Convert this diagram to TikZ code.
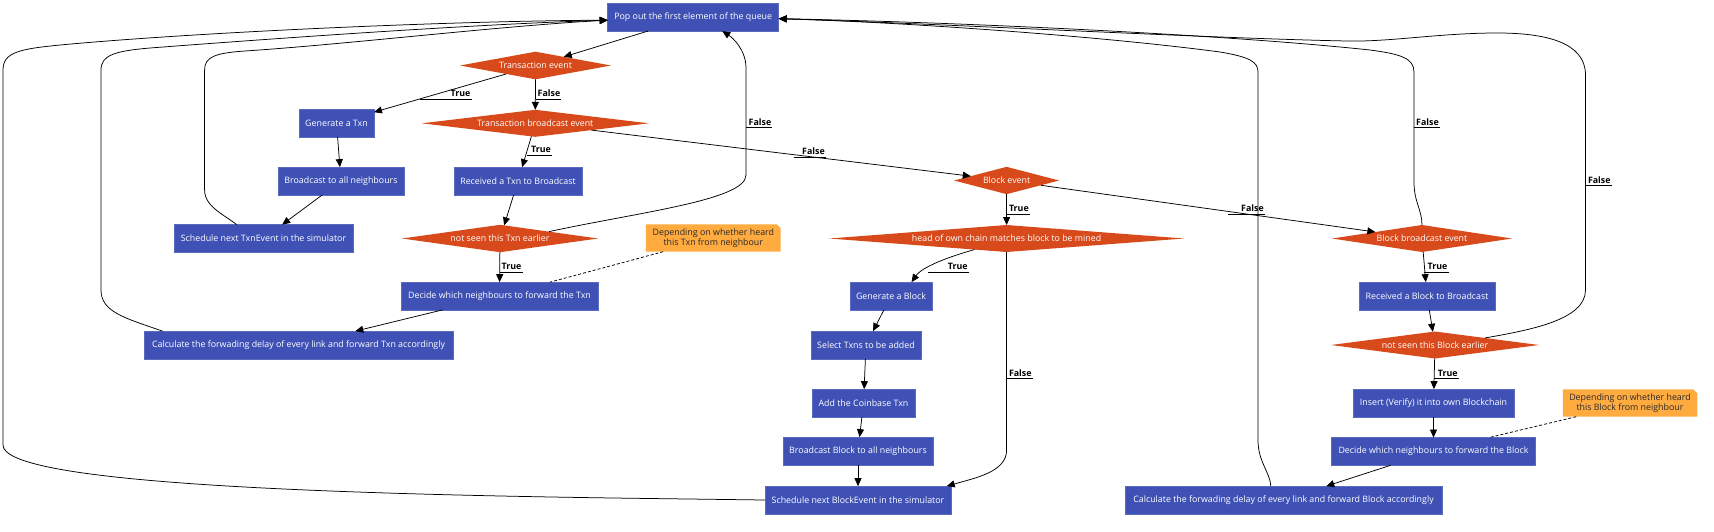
\documentclass[tikz,border=0pt]{standalone}
\usepackage{fontspec}
\setmainfont{Open Sans}
\usetikzlibrary{shapes.geometric,arrows.meta,calc}
\definecolor{boxblue}{HTML}{3F51B5}
\definecolor{boxedge}{HTML}{5C6BC0}
\definecolor{decor}{HTML}{D84A1B}
\definecolor{noteor}{HTML}{FFAB40}
\definecolor{notetext}{HTML}{2A2A2A}
\begin{document}
\begin{tikzpicture}[x=1pt,y=-1pt,
  font=\fontsize{8.85}{10}\selectfont,
  box/.style={rectangle, fill=boxblue, draw=boxedge, line width=0.6pt, text=white,
    minimum height=27.7pt, inner xsep=2pt, inner ysep=0pt, outer sep=0pt},
  dec/.style={diamond, fill=decor, text=white, inner sep=0pt, outer sep=0pt, shape aspect=1},
  note/.style={rectangle, inner sep=0pt, outer sep=0pt, minimum height=27.4pt,
    text=notetext, align=center,
    path picture={\fill[noteor] (path picture bounding box.south west)
      -- (path picture bounding box.north west)
      -- ($(path picture bounding box.north east)+(-4,0)$)
      -- ($(path picture bounding box.north east)+(0,4)$)
      -- (path picture bounding box.south east) -- cycle;}},
  conn/.style={draw=black, line width=0.75pt},
  arr/.style={-{Triangle[length=8pt,width=7pt]}},
  dashline/.style={draw=black, line width=0.75pt, dash pattern=on 3pt off 2pt},
  lbl/.style={anchor=south west, font=\fontsize{8.85}{10}\selectfont\bfseries,
    inner xsep=1pt, inner ysep=2.3pt, text depth=0pt},
  ul/.style={draw=black, line width=0.75pt}
]
\fill[white] (0,0) rectangle (1714,531);
\useasboundingbox (0,0) rectangle (1714,531);

% ---------- nodes ----------
\node[box, minimum width=171pt] (pop) at (693.2,17.2) {Pop out the first element of the queue};
\node[dec, minimum width=151pt, minimum height=27.6pt] (te) at (535.5,65.5) {\makebox[0pt]{Transaction event}};
\node[box, minimum width=75pt] (gt) at (336.5,123) {Generate a Txn};
\node[dec, minimum width=227pt, minimum height=27pt] (tbe) at (535.3,123.3) {\makebox[0pt]{Transaction broadcast event}};
\node[box, minimum width=126pt] (bn) at (341,181) {Broadcast to all neighbours};
\node[box, minimum width=128pt] (rt) at (518,181) {Received a Txn to Broadcast};
\node[box, minimum width=179pt] (st) at (263.5,238.5) {Schedule next TxnEvent in the simulator};
\node[dec, minimum width=196pt, minimum height=27.4pt] (nst) at (500,238.5) {\makebox[0pt]{not seen this Txn earlier}};
\node[note, minimum width=134.7pt] (notet) at (713.3,238) {Depending on whether heard\\this Txn from neighbour};
\node[box, minimum width=197pt] (dt) at (499.5,296) {Decide which neighbours to forward the Txn};
\node[box, minimum width=309pt] (ct) at (298.5,345) {Calculate the forwading delay of every link and forward Txn accordingly};

\node[dec, minimum width=105pt, minimum height=27.3pt] (be) at (1006.6,180.5) {\makebox[0pt]{Block event}};
\node[dec, minimum width=355pt, minimum height=27pt] (hc) at (1006.6,238.5) {\makebox[0pt]{head of own chain matches block to be mined}};
\node[dec, minimum width=180pt, minimum height=27pt] (bbe) at (1422,238.5) {\makebox[0pt]{Block broadcast event}};
\node[box, minimum width=82pt] (gb) at (891,296) {Generate a Block};
\node[box, minimum width=110pt] (sx) at (866,345) {Select Txns to be added};
\node[box, minimum width=103pt] (ac) at (863.5,403) {Add the Coinbase Txn};
\node[box, minimum width=150pt] (bb) at (858,451) {Broadcast Block to all neighbours};
\node[box, minimum width=186pt] (sb) at (858,500) {Schedule next BlockEvent in the simulator};
\node[box, minimum width=136pt] (rb) at (1427,296) {Received a Block to Broadcast};
\node[dec, minimum width=208pt, minimum height=27pt] (nsb) at (1435,345) {\makebox[0pt]{not seen this Block earlier}};
\node[box, minimum width=161pt] (ib) at (1433.5,403) {Insert (Verify) it into own Blockchain};
\node[note, minimum width=134.5pt] (noteb) at (1630,403) {Depending on whether heard\\this Block from neighbour};
\node[box, minimum width=204pt] (db) at (1433.5,451.4) {Decide which neighbours to forward the Block};
\node[box, minimum width=317pt] (cb) at (1283.5,500) {Calculate the forwading delay of every link and forward Block accordingly};

% ---------- straight connectors ----------
\draw[conn,arr] (pop) -- (te);
\draw[conn,arr] (te) -- (gt);
\draw[conn,arr] (te.south) -- (tbe.north);
\draw[conn,arr] (gt) -- (bn);
\draw[conn,arr] (bn) -- (st);
\draw[conn,arr] (tbe) -- (rt);
\draw[conn,arr] (tbe) -- (be);
\draw[conn,arr] (rt) -- (nst);
\draw[conn,arr] (nst) -- (dt);
\draw[conn,arr] (dt) -- (ct);
\draw[conn,arr] (be.south) -- (hc.north);
\draw[conn,arr] (be) -- (bbe);
\draw[conn,arr] (gb) -- (sx);
\draw[conn,arr] (sx) -- (ac);
\draw[conn,arr] (ac) -- (bb);
\draw[conn,arr] (bb) -- (sb);
\draw[conn,arr] (bbe) -- (rb);
\draw[conn,arr] (rb) -- (nsb);
\draw[conn,arr] (nsb) -- (ib);
\draw[conn,arr] (ib) -- (db);
\draw[conn,arr] (db) -- (cb);

% ---------- curved connectors ----------
\draw[conn,arr] ($(st.north west)!0.35!(st.north east)$) .. controls (225,215) and (204.6,207) .. (204.6,190)
  -- (204.6,70) .. controls (204.6,57) and (215,53) .. (245,51) .. controls (350,44) and (500,26) .. (pop.182);
\draw[conn,arr] ($(ct.north west)!0.06!(ct.north east)$) .. controls (125,318) and (101,312) .. (101,290)
  -- (101,70) .. controls (101,55) and (115,51) .. (150,48) .. controls (280,38) and (480,24) .. (pop.182);
\draw[conn,arr] (sb.west) -- (650,498.5) .. controls (300,494) and (3,482) .. (3,445)
  -- (3,70) .. controls (3,52) and (20,49) .. (60,45) .. controls (200,32) and (450,21) .. (pop.182);
\draw[conn,arr] (nst.8) .. controls (640,212) and (746,200) .. (746,175)
  -- (746,68) .. controls (746,50) and (733,38) .. ($(pop.south west)!0.67!(pop.south east)$);
\draw[conn,arr] (hc.199) .. controls (948,257) and (922,267) .. ($(gb.north west)!0.75!(gb.north east)$);
\draw[conn,arr] (hc.south) -- (1006.6,450) .. controls (1006.6,472) and (975,478) .. ($(sb.north west)!0.977!(sb.north east)$);
\draw[conn,arr] (bbe.north) .. controls (1422,210) and (1414,202) .. (1414,182)
  -- (1414,72) .. controls (1414,58) and (1400,54) .. (1370,50) .. controls (1220,34) and (950,22) .. (pop.359);
\draw[conn,arr] ($(cb.north west)!0.46!(cb.north east)$) .. controls (1270,472) and (1258,462) .. (1258,440)
  -- (1258,72) .. controls (1258,62) and (1250,57) .. (1220,52) .. controls (1100,36) and (900,22) .. (pop.359);
\draw[conn,arr] (nsb.8) .. controls (1530,330) and (1585.5,320) .. (1585.5,290)
  -- (1585.5,75) .. controls (1585.5,42) and (1545,33) .. (1497,33) .. controls (1440,33) and (1390,42) .. (1347,41)
  .. controls (1200,38) and (950,24) .. (pop.359);

% ---------- note links ----------
\draw[dashline] ($(notet.south west)!0.128!(notet.south east)$) -- ($(dt.north west)!0.756!(dt.north east)$);
\draw[dashline] ($(noteb.south west)!0.1!(noteb.south east)$) -- ($(db.north west)!0.772!(db.north east)$);

% ---------- labels ----------
\node[lbl] (la) at (449.5,99) {True};   \draw[ul] (420,99) -- (la.south east);
\node[lbl] (lb) at (536.5,99) {False};  \draw[ul] (535.5,99) -- (lb.south east);
\node[lbl] (lc) at (530,155.3) {True};  \draw[ul] (527,155.3) -- (lc.south east);
\node[lbl] (ld) at (801,157) {False};   \draw[ul] (794,157) -- (ld.south east);
\node[lbl] (le) at (747.5,127.7) {False}; \draw[ul] (746,127.7) -- (le.south east);
\node[lbl] (lf) at (500.5,272) {True};  \draw[ul] (499.7,272) -- (lf.south east);
\node[lbl] (lg) at (1007.8,214) {True}; \draw[ul] (1006.6,214) -- (lg.south east);
\node[lbl] (lh) at (1240,214) {False};  \draw[ul] (1228,214) -- (lh.south east);
\node[lbl] (li) at (946.7,272) {True};  \draw[ul] (928,272) -- (li.south east);
\node[lbl] (lj) at (1007.8,378.7) {False}; \draw[ul] (1006.6,378.7) -- (lj.south east);
\node[lbl] (lk) at (1426.5,272.3) {True}; \draw[ul] (1423.5,272.3) -- (lk.south east);
\node[lbl] (ll) at (1415,127.7) {False}; \draw[ul] (1414,127.7) -- (ll.south east);
\node[lbl] (lm) at (1586.8,185.7) {False}; \draw[ul] (1585.5,185.7) -- (lm.south east);
\node[lbl] (ln) at (1436.7,378.7) {True}; \draw[ul] (1433.8,378.7) -- (ln.south east);
\end{tikzpicture}
\end{document}
